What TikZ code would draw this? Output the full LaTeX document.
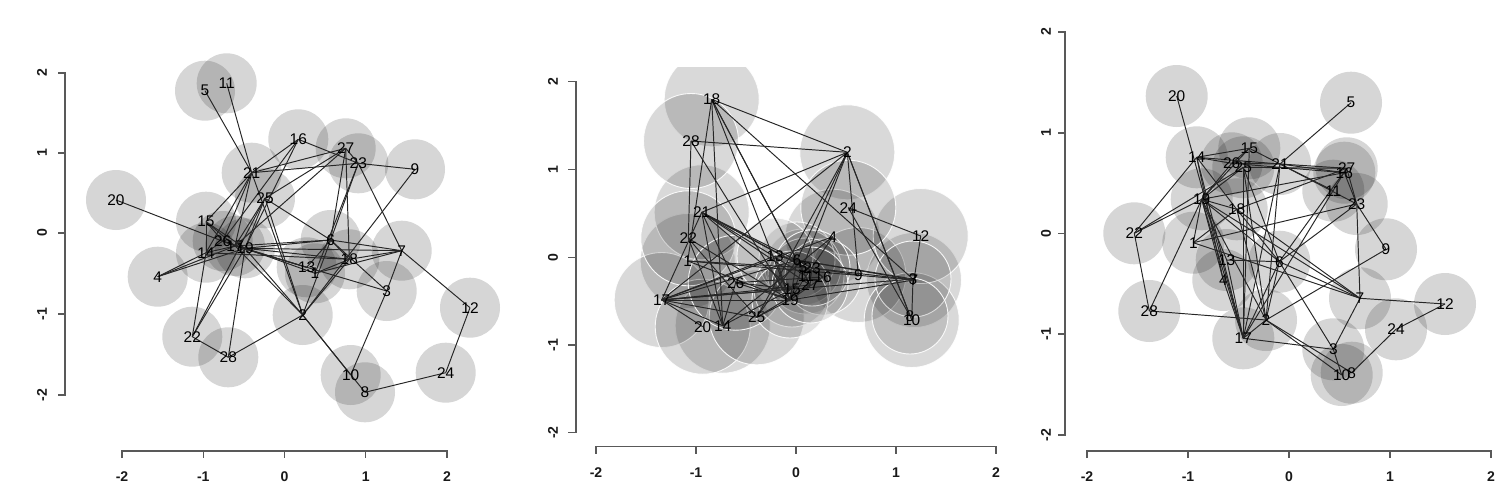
\documentclass[tikz,border=0pt]{standalone}
\usepackage{fontspec}
\setmainfont{Liberation Sans}
\begin{document}
\begin{tikzpicture}[x=0.2mm,y=-0.2mm,
  circA/.style={fill=black,fill opacity=0.16},
  circB/.style={fill=black,fill opacity=0.15,draw=white,draw opacity=0.9,line width=0.5pt},
  circC/.style={fill=black,fill opacity=0.11,draw=white,draw opacity=0.9,line width=0.5pt},
  edge/.style={draw=black!85,line width=0.55pt},
  lab/.style={font=\fontsize{8.8}{8.8}\selectfont,text=black,inner sep=0pt},
  axisline/.style={draw=black!65,line width=0.6pt},
  ticklab/.style={font=\fontsize{8}{8}\selectfont\bfseries,text=black!90,inner sep=0pt}]
\useasboundingbox (0,0) rectangle (1500,500);
\newcommand\graphedges{20/17,5/21,11/21,14/15,14/26,14/21,14/22,14/18,14/4,14/17,15/21,15/19,15/26,16/21,16/23,16/19,16/26,26/19,25/19,25/17,25/27,25/6,25/2,25/22,21/27,21/23,21/2,21/17,21/26,18/27,19/18,19/1,19/13,19/4,19/17,19/7,19/6,19/2,1/7,13/6,28/2,28/19,22/28,22/19,6/27,6/23,6/3,6/17,6/2,6/7,6/18,9/23,9/2,23/7,23/1,7/12,7/3,12/24,24/8,2/10,2/8,17/3,17/2,3/10,27/23,18/1,18/2,18/7,4/17,17/15,17/27,17/13}
% ---------------- panel 1 ----------------
\foreach \n/\x/\y in {1/315/273.3,2/302.7/315,3/386.7/291,4/157.7/276.7,5/205/90.7,6/330.7/240,7/401.7/250.7,8/365/392.3,9/415/169.3,10/350.7/375,11/226.7/83.3,12/470/307.7,13/306.7/267.3,14/206/252.7,15/206/221.7,16/298.3/139.3,17/235/246,18/349.3/259.3,19/245/248.3,20/116/200,21/251.7/172.7,22/192.3/336.7,23/358.3/163.3,24/445.7/372.7,25/265/198.3,26/222.7/241,27/345.7/148.3,28/228.3/357.3}
  {\coordinate (a\n) at (\x,\y);}
\foreach \n in {1,...,28} {\fill[circA] (a\n) circle[radius=6mm];}
\foreach \u/\v in \graphedges {\draw[edge] (a\u) -- (a\v);}
\foreach \n in {1,...,28} {\node[lab] (la\n) at (a\n) {\n};}
% axes panel 1
\draw[axisline] (58,73) -- (65,73) -- (65,395) -- (58,395);
\foreach \t in {153,233,314} {\draw[axisline] (58,\t) -- (65,\t);}
\foreach \t/\l in {73/2,153/1,233/0,314/-1,395/-2} {\node[ticklab,rotate=90] at (42,\t) {\l};}
\draw[axisline] (122,458) -- (122,451) -- (447,451) -- (447,458);
\foreach \t in {203.25,284.5,365.75} {\draw[axisline] (\t,451) -- (\t,458);}
\foreach \t/\l in {122/-2,203.25/-1,284.5/0,365.75/1,447/2} {\node[ticklab] at (\t,477) {\l};}
% ---------------- panel 2 ----------------
\foreach \n/\x/\y in {1/687.7/261,2/847.3/152.3,3/913/279,4/832.7/236.7,5/803/267,6/797/260,7/914/280,8/910/316,9/858.3/275,10/911.7/320,11/806/276,12/920.7/236,13/775/256,14/722.7/325.7,15/792/289,16/823/277,17/661.7/300,18/711.7/99.3,19/790/300,20/702.7/326.7,21/701.7/212.3,22/688.3/238.3,23/812/268,24/848.3/207.7,25/756.7/317.3,26/735.7/282.7,27/810/285,28/691/141}
  {\coordinate (b\n) at (\x,\y);}
\begin{scope}
\clip (580,67) rectangle (1010,440);
\foreach \n in {1,2,4,7,9,10,12,14,17,18,20,21,22,24,25,26,28} {\filldraw[circB] (b\n) circle[radius=9.5mm];}
\foreach \n in {3,5,6,8,11,13,15,16,19,23,27} {\filldraw[circC] (b\n) circle[radius=7.6mm];}
\end{scope}
\foreach \u/\v in \graphedges {\draw[edge] (b\u) -- (b\v);}
\foreach \n in {1,...,28} {\node[lab] (lb\n) at (b\n) {\n};}
\draw[axisline] (568,81.7) -- (576,81.7) -- (576,432.7) -- (568,432.7);
\foreach \t in {169.5,257.2,345} {\draw[axisline] (568,\t) -- (576,\t);}
\foreach \t/\l in {81.7/2,169.5/1,257.2/0,345/-1,432.7/-2} {\node[ticklab,rotate=90] at (553,\t) {\l};}
\draw[axisline] (596,453.7) -- (596,446.7) -- (996,446.7) -- (996,453.7);
\foreach \t in {696,796,896} {\draw[axisline] (\t,446.7) -- (\t,453.7);}
\foreach \t/\l in {596/-2,696/-1,796/0,896/1,996/2} {\node[ticklab] at (\t,473) {\l};}
% ---------------- panel 3 ----------------
\foreach \n/\x/\y in {1/1193.3/242.7,2/1266/320,3/1333.3/349.3,4/1223.3/280,5/1351/102.7,6/1279.3/261.7,7/1360/298.3,8/1351.7/372.7,9/1386/249.3,10/1341.7/375,11/1333.3/190.7,12/1445/304,13/1226.7/260,14/1196.7/157.3,15/1249.3/148.3,16/1344.3/172.7,17/1243.3/338.3,18/1236.7/209.3,19/1201.7/199.3,20/1176.7/96,21/1280/164,22/1134.3/233.3,23/1356.7/204,24/1396/329.3,25/1243.3/167.3,26/1231.7/163.3,27/1346.7/168.3,28/1149.3/311}
  {\coordinate (c\n) at (\x,\y);}
\foreach \n in {1,...,28} {\fill[circA] (c\n) circle[radius=6.2mm];}
\foreach \u/\v in \graphedges {\draw[edge] (c\u) -- (c\v);}
\foreach \n in {1,...,28} {\node[lab] (lc\n) at (c\n) {\n};}
\draw[axisline] (1058,32) -- (1065,32) -- (1065,435) -- (1058,435);
\foreach \t in {133,233.5,334} {\draw[axisline] (1058,\t) -- (1065,\t);}
\foreach \t/\l in {32/2,133/1,233.5/0,334/-1,435/-2} {\node[ticklab,rotate=90] at (1046,\t) {\l};}
\draw[axisline] (1087,458) -- (1087,451) -- (1491,451) -- (1491,458);
\foreach \t in {1188,1289,1390} {\draw[axisline] (\t,451) -- (\t,458);}
\foreach \t/\l in {1087/-2,1188/-1,1289/0,1390/1,1491/2} {\node[ticklab] at (\t,477) {\l};}
\end{tikzpicture}
\end{document}
